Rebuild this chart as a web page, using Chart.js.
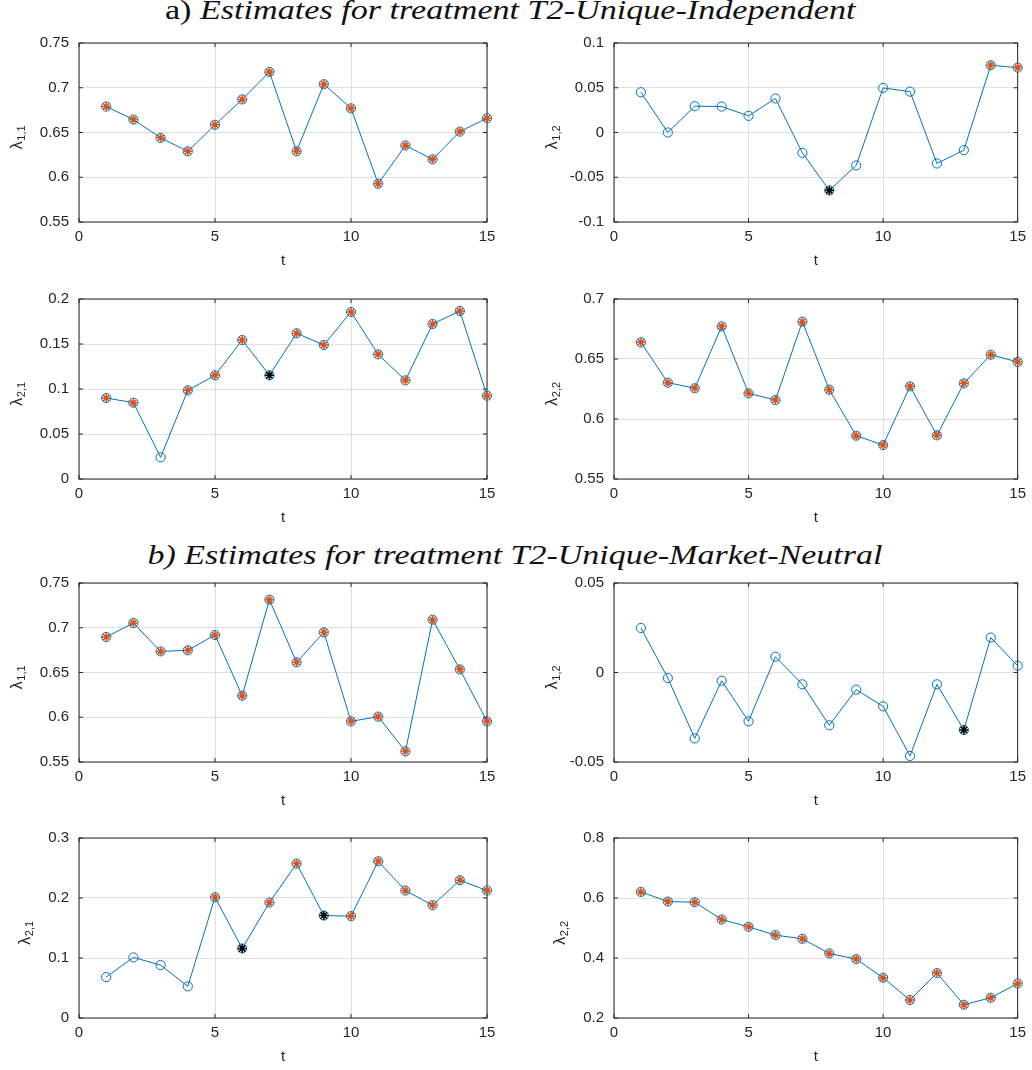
<!DOCTYPE html>
<html><head><meta charset="utf-8">
<script src="https://cdn.jsdelivr.net/npm/chart.js@4.4.1/dist/chart.umd.min.js"></script>
<style>
html,body{margin:0;padding:0;background:#fff;}
body{width:1032px;height:1070px;position:relative;overflow:hidden;}
.panel{position:absolute;}
.ttl{position:absolute;white-space:nowrap;font-family:"Liberation Serif",serif;font-size:27px;line-height:1;color:#111;transform-origin:50% 50%;display:inline-block;}
.ttl i{font-style:italic;}
</style></head><body>
<span class="ttl" id="ta">a) <i>Estimates for treatment T2-Unique-Independent</i></span>
<span class="ttl" id="tb"><i>b) Estimates for treatment T2-Unique-Market-Neutral</i></span>
<script>
// ---------- data ----------
const t = [1,2,3,4,5,6,7,8,9,10,11,12,13,14,15];
const xTicks = [0,5,10,15];

// a) T2-Unique-Independent
const a11 = [0.679,0.6645,0.644,0.629,0.6586,0.687,0.7177,0.629,0.704,0.677,0.5928,0.6355,0.620,0.651,0.666];
const a12 = [0.045,0.0,0.0294,0.029,0.0186,0.038,-0.0227,-0.0647,-0.0368,0.0498,0.0457,-0.0346,-0.0197,0.0751,0.0725];
const a21 = [0.09,0.0848,0.0241,0.0985,0.1152,0.1544,0.1152,0.1619,0.1489,0.1856,0.1385,0.1096,0.1722,0.1867,0.0926];
const a22 = [0.6639,0.6303,0.6256,0.6772,0.6214,0.6158,0.6811,0.6244,0.5861,0.5783,0.6272,0.5864,0.6297,0.6536,0.6475];
// b) T2-Unique-Market-Neutral
const b11 = [0.6897,0.7053,0.6736,0.6748,0.6919,0.6241,0.7314,0.6614,0.6949,0.5954,0.6007,0.5619,0.709,0.6535,0.5954];
const b12 = [0.0249,-0.0031,-0.0368,-0.0046,-0.0273,0.0088,-0.0066,-0.0295,-0.0096,-0.0189,-0.0466,-0.0066,-0.0321,0.0195,0.0038];
const b21 = [0.0682,0.1009,0.0882,0.0527,0.2013,0.1159,0.1925,0.2574,0.1708,0.1697,0.2612,0.2124,0.188,0.2296,0.2124];
const b22 = [0.6203,0.5882,0.586,0.5283,0.5039,0.4762,0.464,0.4152,0.3963,0.3342,0.26,0.3496,0.2442,0.2675,0.3152];

// periods marked with an orange / black asterisk
const a11Orange = [1,2,3,4,5,6,7,8,9,10,11,12,13,14,15];
const a11Black  = [];
const a12Orange = [14,15];
const a12Black  = [8];
const a21Orange = [1,2,4,5,6,8,9,10,11,12,13,14,15];
const a21Black  = [7];
const a22Orange = [1,2,3,4,5,6,7,8,9,10,11,12,13,14,15];
const a22Black  = [];
const b11Orange = [1,2,3,4,5,6,7,8,9,10,11,12,13,14,15];
const b11Black  = [];
const b12Orange = [];
const b12Black  = [13];
const b21Orange = [5,7,8,10,11,12,13,14,15];
const b21Black  = [6,9];
const b22Orange = [1,2,3,4,5,6,7,8,9,10,11,12,13,14,15];
const b22Black  = [];

// y tick labels
const a11Ticks = [0.55,0.6,0.65,0.7,0.75];
const a12Ticks = [-0.1,-0.05,0,0.05,0.1];
const a21Ticks = [0,0.05,0.1,0.15,0.2];
const a22Ticks = [0.55,0.6,0.65,0.7];
const b11Ticks = [0.55,0.6,0.65,0.7,0.75];
const b12Ticks = [-0.05,0,0.05];
const b21Ticks = [0,0.1,0.2,0.3];
const b22Ticks = [0.2,0.4,0.6,0.8];

// ---------- layout / style ----------
const BLUE = '#0072BD', ORANGE = '#D95319', AXIS = '#262626', GRID = 'rgba(38,38,38,0.14)';
const SANS = '"Liberation Sans", Arial, sans-serif';
const TICK_FONT = {family: SANS, size: 15};

const panels = [
  {v:a11, o:a11Orange, k:a11Black, ticks:a11Ticks, sub:'1,1', col:0,   box:[79, 43.3, 487, 222.7]},
  {v:a12, o:a12Orange, k:a12Black, ticks:a12Ticks, sub:'1,2', col:516, box:[614, 43.3, 1022.7, 222.7]},
  {v:a21, o:a21Orange, k:a21Black, ticks:a21Ticks, sub:'2,1', col:0,   box:[79, 299.3, 487, 479.3]},
  {v:a22, o:a22Orange, k:a22Black, ticks:a22Ticks, sub:'2,2', col:516, box:[614, 299.3, 1022.7, 479.3]},
  {v:b11, o:b11Orange, k:b11Black, ticks:b11Ticks, sub:'1,1', col:0,   box:[79, 582.7, 487, 761.7]},
  {v:b12, o:b12Orange, k:b12Black, ticks:b12Ticks, sub:'1,2', col:516, box:[614, 582.7, 1022.7, 761.7]},
  {v:b21, o:b21Orange, k:b21Black, ticks:b21Ticks, sub:'2,1', col:0,   box:[79, 838.3, 487, 1018.7]},
  {v:b22, o:b22Orange, k:b22Black, ticks:b22Ticks, sub:'2,2', col:516, box:[614, 838.3, 1022.7, 1018.7]},
];

const boxPlugin = {
  id: 'matlabBox',
  beforeDatasetsDraw(chart) {
    const {ctx, chartArea: a, scales} = chart;
    ctx.save();
    ctx.strokeStyle = AXIS; ctx.lineWidth = 1;
    ctx.strokeRect(a.left, a.top, a.right - a.left, a.bottom - a.top);
    const L = 4;
    ctx.beginPath();
    scales.x.ticks.forEach(tk => {
      const px = scales.x.getPixelForValue(tk.value);
      ctx.moveTo(px, a.bottom); ctx.lineTo(px, a.bottom - L);
      ctx.moveTo(px, a.top); ctx.lineTo(px, a.top + L);
    });
    scales.y.ticks.forEach(tk => {
      const py = scales.y.getPixelForValue(tk.value);
      ctx.moveTo(a.left, py); ctx.lineTo(a.left + L, py);
      ctx.moveTo(a.right, py); ctx.lineTo(a.right - L, py);
    });
    ctx.stroke();
    ctx.restore();
  },
  afterDraw(chart, args, opts) {
    const {ctx, chartArea: a, scales} = chart;
    ctx.save();
    // y label  λ_{i,j}
    ctx.font = '15px ' + SANS;
    let maxW = 0;
    scales.y.ticks.forEach(tk => {
      const s = String(tk.value).replace('-', '');
      maxW = Math.max(maxW, ctx.measureText(s).width);
    });
    const tickLeft = a.left - 10 - maxW;
    const bx = tickLeft - 18;
    const cy = (a.top + a.bottom) / 2 + 5;
    ctx.translate(bx, cy);
    ctx.rotate(-Math.PI / 2);
    ctx.fillStyle = AXIS;
    ctx.textBaseline = 'alphabetic';
    ctx.textAlign = 'left';
    ctx.font = '16px ' + SANS;
    const wl = ctx.measureText('λ').width;
    ctx.font = '11px ' + SANS;
    const ws = ctx.measureText(opts.sub).width;
    const x0 = -(wl + ws) / 2;
    ctx.font = '16px ' + SANS;
    ctx.fillText('λ', x0, 0);
    ctx.font = '11px ' + SANS;
    ctx.fillText(opts.sub, x0 + wl + 0.5, 3);
    ctx.restore();
  }
};

function pts(vals, which) {
  return which.map(tt => ({x: tt, y: vals[t.indexOf(tt)]}));
}

panels.forEach(p => {
  const [x0, y0, x1, y1] = p.box;
  const padTop = 20, xAxisH = 50, W = 516;
  const H = Math.round((y1 - y0) + padTop + xAxisH);
  const div = document.createElement('div');
  div.className = 'panel';
  div.style.left = p.col + 'px';
  div.style.top = (y0 - padTop) + 'px';
  div.style.width = W + 'px';
  div.style.height = H + 'px';
  const c = document.createElement('canvas');
  c.width = W; c.height = H;
  c.style.width = W + 'px'; c.style.height = H + 'px';
  div.appendChild(c);
  document.body.appendChild(div);
  const tickVals = p.ticks;
  new Chart(c, {
    type: 'line',
    data: {
      datasets: [
        {data: pts(p.v, p.k), showLine: false, clip: false, pointStyle: 'star', pointRadius: 4.5,
         pointBorderColor: '#000', pointBackgroundColor: '#000', pointBorderWidth: 1.6, borderColor: '#000'},
        {data: pts(p.v, p.o), showLine: false, clip: false, pointStyle: 'star', pointRadius: 4.2,
         pointBorderColor: ORANGE, pointBackgroundColor: ORANGE, pointBorderWidth: 1.5, borderColor: ORANGE},
        {data: pts(p.v, t), clip: false, borderColor: BLUE, borderWidth: 1, tension: 0,
         pointStyle: 'circle', pointRadius: 4.6, pointBorderWidth: 1,
         pointBorderColor: BLUE, pointBackgroundColor: 'rgba(0,0,0,0)'}
      ]
    },
    options: {
      responsive: false, animation: false, devicePixelRatio: 1,
      layout: {padding: {left: 0, top: padTop, right: p.col + W - x1, bottom: 0}},
      plugins: {legend: {display: false}, tooltip: {enabled: false}, matlabBox: {sub: p.sub}},
      elements: {line: {borderJoinStyle: 'round'}},
      scales: {
        x: {
          type: 'linear', min: 0, max: 15,
          afterBuildTicks: s => { s.ticks = xTicks.map(v => ({value: v})); },
          afterFit: s => { s.height = xAxisH; },
          ticks: {font: TICK_FONT, color: AXIS, padding: 6, maxRotation: 0, autoSkip: false, callback: v => String(v)},
          grid: {color: GRID, drawTicks: false},
          border: {display: false},
          title: {display: true, text: 't', font: {family: SANS, size: 15}, color: AXIS, padding: {top: 0, bottom: 2}}
        },
        y: {
          type: 'linear', min: tickVals[0], max: tickVals[tickVals.length - 1],
          afterBuildTicks: s => { s.ticks = tickVals.map(v => ({value: v})); },
          afterFit: s => { s.width = x0 - p.col; },
          ticks: {font: TICK_FONT, color: AXIS, padding: 10, autoSkip: false, callback: v => String(v)},
          grid: {color: GRID, drawTicks: false},
          border: {display: false}
        }
      }
    },
    plugins: [boxPlugin]
  });
});

// titles
function placeTitle(id, cx, baseline, targetW) {
  const el = document.getElementById(id);
  const w = el.offsetWidth;
  const fs = 27;
  el.style.left = (cx - w / 2) + 'px';
  el.style.top = (baseline - 0.891 * fs + 0.053 * fs) + 'px';
  el.style.transform = 'scaleX(' + (targetW / w) + ')';
}
placeTitle('ta', 510, 20, 690);
placeTitle('tb', 514.5, 565, 735);
</script>
</body></html>
